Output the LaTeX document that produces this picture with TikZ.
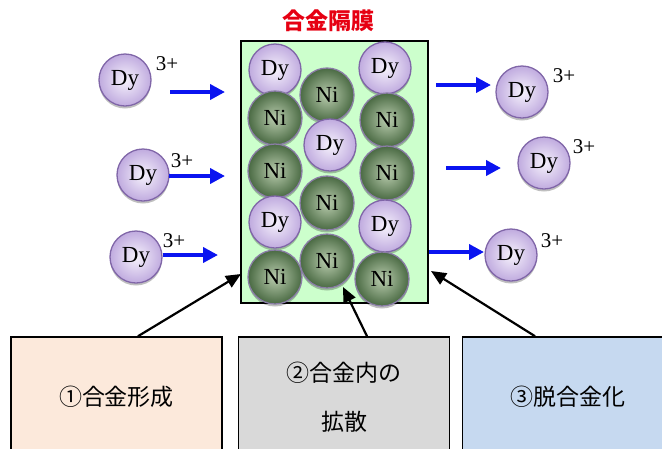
\documentclass[tikz,border=0pt]{standalone}
\usepackage{fontspec}
\newfontfamily\atomfont{Liberation Serif}
\newfontfamily\cjk{Noto Sans CJK JP}
\usetikzlibrary{arrows.meta, shadows}
\definecolor{dyrim}{HTML}{8066A8}
\definecolor{dyin}{HTML}{F6F2FC}
\definecolor{dyout}{HTML}{C0ABDF}
\definecolor{nirim}{HTML}{8A7DA6}
\definecolor{niin}{HTML}{B9CCAE}
\definecolor{niout}{HTML}{4A6A43}
\definecolor{membfill}{HTML}{CCFFCC}
\definecolor{titlered}{HTML}{E60012}
\definecolor{ionblue}{HTML}{0A14F0}
\definecolor{stepone}{HTML}{FCE9DB}
\definecolor{steptwo}{HTML}{D9D9D9}
\definecolor{stepthree}{HTML}{C6D9F0}

\tikzset{
  atom/.style={circle, inner sep=0pt, line width=1.3pt,
    font=\atomfont\fontsize{23}{23}\selectfont,
    drop shadow={shadow xshift=0pt, shadow yshift=-2.5pt, fill=black, opacity=0.25}},
  dy/.style={atom, minimum size=52pt, draw=dyrim, inner color=dyin, outer color=dyout},
  ni/.style={atom, minimum size=54pt, draw=nirim, inner color=niin, outer color=niout},
  charge/.style={inner sep=0pt, font=\atomfont\fontsize{21}{21}\selectfont},
  ionflow/.style={draw=ionblue, line width=4pt, -{Triangle[length=15pt, width=15pt]}},
  stepbox/.style={draw, line width=1.6pt, minimum width=211pt, minimum height=120pt,
    align=center, font=\cjk\fontsize{23}{49}\selectfont},
  pointer/.style={draw, line width=2.2pt, -{Triangle[length=15pt, width=13pt]}}
}

\begin{document}
\begin{tikzpicture}[x=1pt, y=-1pt]
  \useasboundingbox (0,0) rectangle (662,448);
  \clip (0,0) rectangle (662,448);

  % membrane and its title
  \node[draw, line width=1.3pt, fill=membfill, minimum width=187pt, minimum height=262pt]
    (memb) at (334.5,172) {};
  \node[inner sep=0pt, text=titlered, font=\cjk\bfseries\fontsize{23}{23}\selectfont]
    (title) at (328,21) {合金隔膜};

  % atoms inside the alloy, drawn top to bottom
  \node[dy] (a1) at (275,70) {Dy};
  \node[dy] (a2) at (385,68) {Dy};
  \node[ni] (a3) at (327,95) {Ni};
  \node[ni] (a4) at (275,118) {Ni};
  \node[ni] (a5) at (387,120) {Ni};
  \node[dy] (a6) at (330,145) {Dy};
  \node[ni] (a7) at (275,171) {Ni};
  \node[ni] (a8) at (387,173) {Ni};
  \node[ni] (a9) at (327,203) {Ni};
  \node[dy] (a10) at (275,222) {Dy};
  \node[dy] (a11) at (385,226) {Dy};
  \node[ni] (a12) at (327,261) {Ni};
  \node[ni] (a13) at (275,277) {Ni};
  \node[ni] (a14) at (382,279) {Ni};

  % incoming ions
  \node[dy] (in1) at (125,80) {Dy};
  \node[charge] (q1) at (167,64) {3+};
  \node[dy] (in2) at (143,175) {Dy};
  \node[charge] (q2) at (182,161) {3+};
  \node[dy] (in3) at (136,257) {Dy};
  \node[charge] (q3) at (174,241) {3+};

  % outgoing ions
  \node[dy] (out1) at (522,92) {Dy};
  \node[charge] (q4) at (564,76) {3+};
  \node[dy] (out2) at (544,163) {Dy};
  \node[charge] (q5) at (584,147) {3+};
  \node[dy] (out3) at (511,255) {Dy};
  \node[charge] (q6) at (552,241) {3+};

  % blue flow arrows
  \coordinate (f1a) at (170,92);  \coordinate (f1b) at (225,92);
  \coordinate (f2a) at (169,176); \coordinate (f2b) at (225,176);
  \coordinate (f3a) at (163,255); \coordinate (f3b) at (218,255);
  \coordinate (f4a) at (436,85);  \coordinate (f4b) at (491,85);
  \coordinate (f5a) at (446,168); \coordinate (f5b) at (501,168);
  \coordinate (f6a) at (429,252); \coordinate (f6b) at (484,252);
  \foreach \k in {1,...,6}
    \draw[ionflow] (f\k a) -- (f\k b);

  % process steps
  \node[stepbox, fill=stepone] (s1) at (116.5,397) {①合金形成};
  \node[stepbox, fill=steptwo] (s2) at (344,397) {②合金内の\\拡散};
  \node[stepbox, fill=stepthree] (s3) at (568,397) {③脱合金化};

  \coordinate (t1) at (241,274);
  \coordinate (t2) at (343,287);
  \coordinate (t3) at (431,271);
  \draw[pointer] ([xshift=21.5pt]s1.north) -- (t1);
  \draw[pointer] ([xshift=23pt]s2.north) -- (t2);
  \draw[pointer] ([xshift=-33pt]s3.north) -- (t3);
\end{tikzpicture}
\end{document}
